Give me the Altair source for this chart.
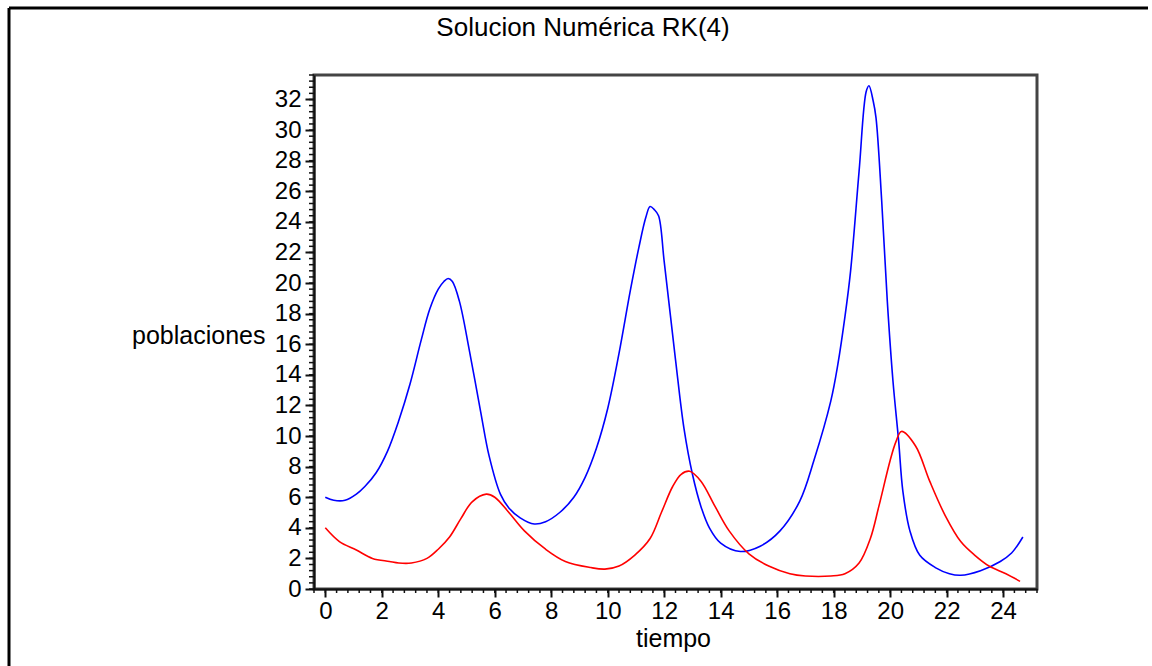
import altair as alt
import pandas as pd

# ---- data ----
prey_t = [0, 0.3, 0.7, 1.1, 1.4, 1.8, 2.2, 2.6, 3.0, 3.4, 3.7, 4.0, 4.2, 4.35, 4.5,
          4.75, 5.1, 5.5, 5.8, 6.2, 6.5, 6.9, 7.4, 7.8, 8.3, 8.8, 9.2, 9.6, 10.0, 10.4, 10.8, 11.1,
          11.35, 11.5, 11.65, 11.8, 12.0, 12.4, 12.7, 13.0, 13.3, 13.6, 14.0, 14.7, 15.4, 16.1, 16.8,
          17.3, 17.9, 18.15, 18.4, 18.6, 18.9, 19.15, 19.25, 19.4, 19.5, 19.7, 19.9, 20.1, 20.3,
          20.45, 20.7, 21.05, 21.6, 22.1, 22.5, 23.2, 23.9, 24.3, 24.7]
prey_v = [6.0, 5.8, 5.8, 6.2, 6.7, 7.6, 9.0, 11.0, 13.4, 16.3, 18.3, 19.6, 20.1, 20.3, 20.1,
          18.8, 15.6, 11.6, 8.7, 6.2, 5.3, 4.65, 4.25, 4.4, 5.0, 6.0, 7.3, 9.2, 11.8, 15.4, 19.5, 22.3,
          24.3, 25.0, 24.8, 24.4, 21.4, 15.0, 10.5, 7.5, 5.4, 4.0, 3.0, 2.45, 2.8, 3.8, 5.75,
          8.4, 12.3, 14.7, 17.8, 20.8, 27.3, 32.5, 32.9, 31.9, 30.8, 25.4, 18.8, 13.6, 9.7,
          6.4, 3.8, 2.2, 1.4, 1.0, 0.9, 1.2, 1.8, 2.35, 3.4]

pred_t = [0, 0.5, 1.1, 1.67, 2.27, 2.6, 3.05, 3.6, 4.0, 4.4, 4.8, 5.2, 5.7, 6.0, 6.5, 7.05, 7.8, 8.5,
          9.4, 9.9, 10.4, 10.95, 11.5, 11.9, 12.3, 12.6, 12.9, 13.3, 13.8, 14.3, 15.0, 15.7, 16.45,
          17.0, 17.9, 18.4, 18.9, 19.3, 19.6, 20.0, 20.2, 20.4, 20.9, 21.4, 21.95, 22.5, 23.0, 23.5,
          24.1, 24.6]
pred_v = [4.0, 3.1, 2.55, 2.0, 1.8, 1.7, 1.7, 2.0, 2.6, 3.4, 4.6, 5.7, 6.2, 6.0, 5.0, 3.8, 2.6, 1.8,
          1.4, 1.3, 1.5, 2.2, 3.3, 5.0, 6.7, 7.5, 7.7, 7.05, 5.4, 3.8, 2.3, 1.5, 1.0,
          0.85, 0.85, 1.0, 1.7, 3.3, 5.4, 8.4, 9.6, 10.3, 9.35, 7.05, 4.8, 3.1, 2.2, 1.5,
          1.0, 0.5]

x_major = [0, 2, 4, 6, 8, 10, 12, 14, 16, 18, 20, 22, 24]
y_major = [0, 2, 4, 6, 8, 10, 12, 14, 16, 18, 20, 22, 24, 26, 28, 30, 32]
x_minor = [round(-0.4 + 0.4 * i, 1) for i in range(65)]   # -0.4 .. 25.2
y_minor = [round(0.4 * i, 1) for i in range(85)]          # 0 .. 33.6

TITLE = "Solucion Numérica RK(4)"
FONT = "Liberation Sans, Arial, sans-serif"

W, H = 723, 514
PAD = {"left": 314, "top": 75, "right": 115, "bottom": 77}

xscale = alt.Scale(domain=[-0.4, 25.2], nice=False, zero=False)
yscale = alt.Scale(domain=[0, 33.6], nice=False, zero=False)

prey = pd.DataFrame({"t": prey_t, "v": prey_v})
pred = pd.DataFrame({"t": pred_t, "v": pred_v})

xaxis = alt.Axis(values=x_major, tickSize=8, tickWidth=2, tickColor="#111",
                 domainColor="#111", domainWidth=2, labelFont=FONT, labelFontSize=24,
                 labelColor="black", labelPadding=2, labelOverlap=False, grid=False, title="tiempo",
                 titleFont=FONT, titleFontSize=25, titleFontWeight="normal", titleColor="black",
                 titleX=359, titleY=49, titleBaseline="middle", titleAlign="center")
yaxis = alt.Axis(values=y_major, tickSize=9, tickWidth=2, tickColor="#111",
                 domainColor="#111", domainWidth=2, labelFont=FONT, labelFontSize=24,
                 labelColor="black", labelPadding=4, labelOverlap=False, labelSeparation=0,
                 grid=False, title="poblaciones",
                 titleFont=FONT, titleFontSize=25, titleFontWeight="normal", titleColor="black",
                 titleAngle=0, titleAlign="right", titleBaseline="middle",
                 titleX=-49, titleY=260)

line_prey = alt.Chart(prey).mark_line(color="#0000ff", strokeWidth=1.6,
                                      interpolate="catmull-rom").encode(
    x=alt.X("t:Q", scale=xscale, axis=xaxis),
    y=alt.Y("v:Q", scale=yscale, axis=yaxis),
)
line_pred = alt.Chart(pred).mark_line(color="#ff0000", strokeWidth=1.6,
                                      interpolate="catmull-rom").encode(
    x=alt.X("t:Q", scale=xscale, axis=xaxis),
    y=alt.Y("v:Q", scale=yscale, axis=yaxis),
)

xminor = alt.Chart(pd.DataFrame({"t": x_minor})).mark_rule(color="#111", strokeWidth=1.5).encode(
    x=alt.X("t:Q", scale=xscale, axis=xaxis),
    y=alt.value(H), y2=alt.value(H + 4),
)
yminor = alt.Chart(pd.DataFrame({"v": y_minor})).mark_rule(color="#111", strokeWidth=1.5).encode(
    y=alt.Y("v:Q", scale=yscale, axis=yaxis),
    x=alt.value(-5), x2=alt.value(0),
)

one = pd.DataFrame({"title": [TITLE]})
title = alt.Chart(one).mark_text(font=FONT, fontSize=26, color="black", align="center",
                                 baseline="alphabetic").encode(
    text="title:N", x=alt.value(583 - 314), y=alt.value(36 - 75))

frame_left = alt.Chart(one).mark_rule(color="black", strokeWidth=3).encode(
    x=alt.value(9 - 314), y=alt.value(8 - 75), y2=alt.value(666 - 75 + 5))
frame_top = alt.Chart(one).mark_rule(color="black", strokeWidth=3).encode(
    y=alt.value(8 - 75), x=alt.value(9 - 314), x2=alt.value(1148 - 314))

chart = alt.layer(line_prey, line_pred, xminor, yminor, title, frame_left, frame_top).properties(
    width=W, height=H,
    autosize=alt.AutoSizeParams(type="none"),
    padding=PAD,
    background="white",
).configure_view(stroke="#444", strokeWidth=3).configure_axis(labelOverlap=False)

chart.save("out.html", embed_options={"renderer": "svg", "actions": False})
